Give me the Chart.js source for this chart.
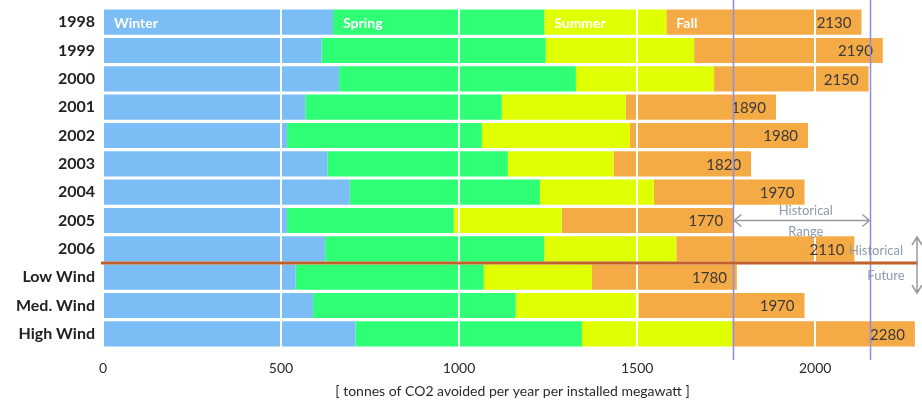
<!DOCTYPE html>
<html>
<head>
<meta charset="utf-8">
<script src="https://cdn.jsdelivr.net/npm/chart.js@4"></script>
<style>
  html, body { margin: 0; padding: 0; background: #fff; }
  #wrap { width: 922px; height: 405px; position: relative; }
</style>
</head>
<body>
<div id="wrap"><canvas id="co2chart"></canvas></div>
<script>
const categories = ['1998', '1999', '2000', '2001', '2002', '2003', '2004', '2005', '2006', 'Low Wind', 'Med. Wind', 'High Wind'];
const seasons = ['Winter', 'Spring', 'Summer', 'Fall'];
const winter = [646, 614, 663, 568, 517, 630, 693, 517, 624, 541, 590, 709];
const spring = [593, 629, 665, 552, 547, 507, 534, 468, 615, 528, 569, 636];
const summer = [343, 417, 388, 348, 416, 297, 320, 303, 371, 304, 346, 422];
const fall = [548, 530, 434, 422, 500, 386, 423, 482, 500, 407, 465, 513];
const totals = [2130, 2190, 2150, 1890, 1980, 1820, 1970, 1770, 2110, 1780, 1970, 2280];
const rangeLines = [1770, 2155];
const xTicks = [0, 500, 1000, 1500, 2000];

const FONT = 'Lato, "DejaVu Sans", sans-serif';
const colors = ['#7bbef5', '#2eff74', '#e0ff00', '#f5ab45'];

const overlay = {
    id: 'overlay',
    afterDraw(chart) {
        const ctx = chart.ctx;
        const xs = chart.scales.x;
        const ys = chart.scales.y;
        const area = chart.chartArea;
        ctx.save();

        // season names in the first bar
        ctx.font = 'bold 14px ' + FONT;
        ctx.fillStyle = '#ffffff';
        ctx.textAlign = 'left';
        ctx.textBaseline = 'middle';
        seasons.forEach((name, i) => {
            const bar = chart.getDatasetMeta(i).data[0];
            ctx.fillText(name, bar.base + 10, bar.y + 1);
        });

        // totals at the end of each bar
        ctx.font = '15px ' + FONT;
        ctx.fillStyle = '#3a3a3a';
        ctx.textAlign = 'right';
        totals.forEach((t, i) => {
            ctx.fillText(String(t), xs.getPixelForValue(t) - 10, ys.getPixelForValue(i) + 1);
        });

        // historical range lines
        ctx.strokeStyle = '#8c8cf0';
        ctx.lineWidth = 1.5;
        rangeLines.forEach(v => {
            const px = Math.round(xs.getPixelForValue(v)) + 0.5;
            ctx.beginPath();
            ctx.moveTo(px, 0);
            ctx.lineTo(px, area.bottom + 12);
            ctx.stroke();
        });

        // separator between history and scenarios
        const sepY = (ys.getPixelForValue(8) + ys.getPixelForValue(9)) / 2;
        ctx.strokeStyle = '#c0602a';
        ctx.lineWidth = 3;
        ctx.beginPath();
        ctx.moveTo(area.left - 2, sepY);
        ctx.lineTo(area.right - 4, sepY);
        ctx.stroke();

        // "Historical Range" arrow
        const x1 = xs.getPixelForValue(rangeLines[0]);
        const x2 = xs.getPixelForValue(rangeLines[1]);
        const ay = ys.getPixelForValue(7);
        ctx.strokeStyle = '#999999';
        ctx.lineWidth = 1.5;
        ctx.beginPath();
        ctx.moveTo(x1 + 1, ay); ctx.lineTo(x2 - 1, ay);
        ctx.moveTo(x1 + 8, ay - 6); ctx.lineTo(x1 + 1, ay); ctx.lineTo(x1 + 8, ay + 6);
        ctx.moveTo(x2 - 8, ay - 6); ctx.lineTo(x2 - 1, ay); ctx.lineTo(x2 - 8, ay + 6);
        ctx.stroke();
        ctx.font = '13px ' + FONT;
        ctx.fillStyle = '#8f9aaa';
        ctx.textAlign = 'center';
        ctx.fillText('Historical', (x1 + x2) / 2 + 4, ay - 10);
        ctx.fillText('Range', (x1 + x2) / 2 + 4, ay + 11);

        // "Historical / Future" vertical arrow
        const vx = area.right - 5;
        const vy1 = sepY - 26, vy2 = sepY + 30;
        ctx.beginPath();
        ctx.moveTo(vx, vy1); ctx.lineTo(vx, vy2);
        ctx.moveTo(vx - 5, vy1 + 8); ctx.lineTo(vx, vy1); ctx.lineTo(vx + 5, vy1 + 8);
        ctx.moveTo(vx - 5, vy2 - 8); ctx.lineTo(vx, vy2); ctx.lineTo(vx + 5, vy2 - 8);
        ctx.stroke();
        ctx.fillText('Historical', vx - 41, sepY - 12);
        ctx.fillText('Future', vx - 31, sepY + 13);

        ctx.restore();
    }
};

const seriesData = [winter, spring, summer, fall];

new Chart(document.getElementById('co2chart'), {
    type: 'bar',
    data: {
        labels: categories,
        datasets: seasons.map((name, i) => ({
            label: name,
            data: seriesData[i],
            backgroundColor: colors[i],
            borderWidth: 0,
            categoryPercentage: 1,
            barPercentage: 0.89
        }))
    },
    options: {
        indexAxis: 'y',
        responsive: true,
        maintainAspectRatio: false,
        animation: false,
        layout: { padding: { top: 8, right: 0, left: 0, bottom: 0 } },
        plugins: {
            legend: { display: false },
            tooltip: { enabled: false }
        },
        scales: {
            x: {
                stacked: true,
                min: 0,
                max: 2300,
                z: 1,
                afterBuildTicks: axis => {
                    axis.ticks = xTicks.map(v => ({ value: v }));
                },
                afterFit: s => { s.height = 57; s.paddingLeft = 0; s.paddingRight = 0; },
                grid: {
                    z: 1,
                    color: c => (c.tick && c.tick.value === 0 ? 'rgba(0,0,0,0)' : '#ffffff'),
                    lineWidth: 2,
                    drawTicks: false
                },
                border: { display: false },
                ticks: {
                    padding: 12,
                    color: '#2a2a2a',
                    font: { family: FONT, size: 14 },
                    callback: v => String(v)
                },
                title: {
                    display: true,
                    text: '[ tonnes of CO2 avoided per year per installed megawatt ]',
                    color: '#2a2a2a',
                    font: { family: FONT, size: 14 },
                    padding: { top: 0, bottom: 5 }
                }
            },
            y: {
                stacked: true,
                afterFit: s => { s.width = 103; s.paddingTop = 0; s.paddingBottom = 0; },
                grid: { display: false, drawTicks: false },
                border: { display: false },
                ticks: {
                    padding: 8,
                    color: '#222222',
                    font: { family: FONT, size: 16, weight: 'bold' }
                }
            }
        }
    },
    plugins: [overlay]
});
</script>
</body>
</html>
